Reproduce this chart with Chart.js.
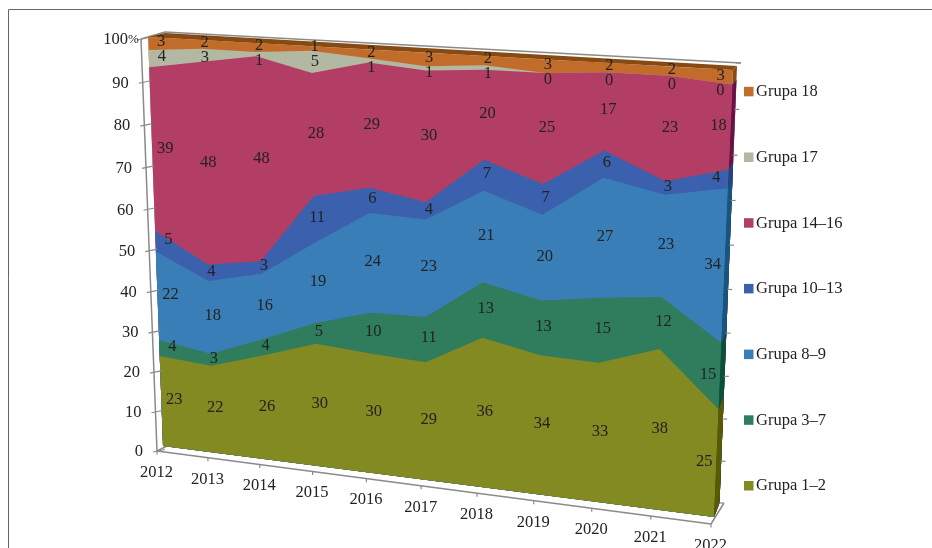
<!DOCTYPE html>
<html lang="pl">
<head>
    <meta charset="UTF-8">
    <title>Grupy 2012-2022</title>
    <script src="https://cdn.jsdelivr.net/npm/chart.js"></script>
    <style>
        body { margin: 0; padding: 0; background: white; overflow: hidden; }
        canvas { display: block; }
    </style>
</head>
<body>
<canvas id="chart" width="932" height="548"></canvas>

<script>
    const years = ['2012', '2013', '2014', '2015', '2016', '2017', '2018', '2019', '2020', '2021', '2022'];
    const yTicks = [0, 10, 20, 30, 40, 50, 60, 70, 80, 90, 100];

    const grupa1_2   = [23, 22, 26, 30, 30, 29, 36, 34, 33, 38, 25];
    const grupa3_7   = [4, 3, 4, 5, 10, 11, 13, 13, 15, 12, 15];
    const grupa8_9   = [22, 18, 16, 19, 24, 23, 21, 20, 27, 23, 34];
    const grupa10_13 = [5, 4, 3, 11, 6, 4, 7, 7, 6, 3, 4];
    const grupa14_16 = [39, 48, 48, 28, 29, 30, 20, 25, 17, 23, 18];
    const grupa17    = [4, 3, 1, 5, 1, 1, 1, 0, 0, 0, 0];
    const grupa18    = [3, 2, 2, 1, 2, 3, 2, 3, 2, 2, 3];

    const seriesNames = ['Grupa 1–2', 'Grupa 3–7', 'Grupa 8–9', 'Grupa 10–13', 'Grupa 14–16', 'Grupa 17', 'Grupa 18'];
    const seriesValues = [grupa1_2, grupa3_7, grupa8_9, grupa10_13, grupa14_16, grupa17, grupa18];
    const faceColors = ['#838a22', '#2f7d5d', '#3a7eb8', '#3b60ae', '#b23e66', '#b3b8a3', '#c16c2a'];
    const sideColors = ['#5b5a00', '#0d4f38', '#15557f', '#1f4583', '#6e1048', '#7d8070', '#884a10'];

    // corners of the tilted box: top-left, top-right, bottom-right, bottom-left
    const frontQuad = [[148, 37], [733, 70], [714, 517], [163, 446]];
    const backQuad  = [[165, 33], [737, 66], [719.5, 503], [170, 442]];
    const wallQuad  = [[141, 39], [741, 63], [724, 503], [157, 451]];

    const textColor = '#222';
    const lineColor = '#8a8a8a';
    const fontFamily = '"Liberation Serif", serif';
    const labelGap = 15;

    // unit square -> quad perspective coefficients
    function homography(q) {
        const [[x0, y0], [x1, y1], [x2, y2], [x3, y3]] = q;
        const dx1 = x1 - x2, dx2 = x3 - x2, sx = x0 - x1 + x2 - x3;
        const dy1 = y1 - y2, dy2 = y3 - y2, sy = y0 - y1 + y2 - y3;
        const den = dx1 * dy2 - dx2 * dy1;
        const g = (sx * dy2 - dx2 * sy) / den;
        const h = (dx1 * sy - sx * dy1) / den;
        return {
            a: x1 - x0 + g * x1, b: x3 - x0 + h * x3, c: x0,
            d: y1 - y0 + g * y1, e: y3 - y0 + h * y3, f: y0,
            g, h
        };
    }
    const frontH = homography(frontQuad);
    const backH = homography(backQuad);
    const wallH = homography(wallQuad);

    // maps a point of the flat chart area onto one of the box planes
    function project(H, area, px, py) {
        const u = (px - area.left) / (area.right - area.left);
        const v = (py - area.top) / (area.bottom - area.top);
        const w = H.g * u + H.h * v + 1;
        return [(H.a * u + H.b * v + H.c) / w, (H.d * u + H.e * v + H.f) / w];
    }

    function polygon(ctx, pts, color) {
        ctx.beginPath();
        pts.forEach((p, i) => i ? ctx.lineTo(p[0], p[1]) : ctx.moveTo(p[0], p[1]));
        ctx.closePath();
        ctx.fillStyle = color;
        ctx.fill();
    }

    function segment(ctx, a, b, width) {
        ctx.beginPath();
        ctx.moveTo(a[0], a[1]);
        ctx.lineTo(b[0], b[1]);
        ctx.lineWidth = width;
        ctx.strokeStyle = lineColor;
        ctx.stroke();
    }

    const boxPlugin = {
        id: 'box',
        afterDatasetsDraw(chart) {
            const ctx = chart.ctx, area = chart.chartArea;
            const xs = chart.scales.x, ys = chart.scales.y;
            const last = years.length - 1;
            const floorY = ys.getPixelForValue(0), topY = ys.getPixelForValue(100);
            const rightX = xs.getPixelForValue(last), leftX = xs.getPixelForValue(0);
            ctx.save();

            // outer frame, open on the right and at the bottom
            ctx.beginPath();
            ctx.moveTo(8.5, 548);
            ctx.lineTo(8.5, 9.5);
            ctx.lineTo(932, 9.5);
            ctx.lineWidth = 1;
            ctx.strokeStyle = '#666';
            ctx.stroke();

            // walls and floor edges
            const wallTL = wallQuad[0], wallBL = wallQuad[3], wallTR = wallQuad[1], wallBR = wallQuad[2];
            segment(ctx, wallBL, wallTL, 1.5);
            segment(ctx, wallTL, [165, 32], 1.5);
            segment(ctx, [165, 32], wallTR, 1.5);
            segment(ctx, wallBL, [166, 446.5], 1.5);
            const axisAt = i => {
                const p = project(frontH, area, xs.getPixelForValue(i), floorY);
                const t = i / last;
                return [p[0] - 6 + 3 * t, p[1] + 5 + 2 * t];
            };
            segment(ctx, axisAt(0), axisAt(last), 1.5);
            segment(ctx, axisAt(last), [wallBR[0], wallBR[1]], 1.5);

            // stacked bands, top one first so each lower band paints over it
            for (let s = seriesValues.length - 1; s >= 0; s--) {
                const pts = chart.getDatasetMeta(s).data.map(el => project(frontH, area, el.x, el.y));
                pts.push(project(frontH, area, rightX, floorY), project(frontH, area, leftX, floorY));
                polygon(ctx, pts, faceColors[s]);

                const el = chart.getDatasetMeta(s).data[last];
                polygon(ctx, [
                    project(frontH, area, el.x, el.y),
                    project(backH, area, el.x, el.y),
                    project(backH, area, rightX, floorY),
                    project(frontH, area, rightX, floorY)
                ], sideColors[s]);
            }

            // top face of the box
            polygon(ctx, [
                project(frontH, area, leftX, topY),
                project(backH, area, leftX, topY),
                project(backH, area, rightX, topY),
                project(frontH, area, rightX, topY)
            ], sideColors[6]);

            ctx.fillStyle = textColor;
            ctx.font = '16.5px ' + fontFamily;

            // value axis
            ctx.textBaseline = 'middle';
            yTicks.forEach(v => {
                const py = ys.getPixelForValue(v);
                const p = project(wallH, area, leftX, py);
                const r = project(wallH, area, rightX, py);
                segment(ctx, [p[0] - 4, p[1] + 1], [p[0] + 8, p[1] - 1.5], 1.2);
                segment(ctx, [r[0] - 5, r[1]], [r[0], r[1]], 1.2);
                ctx.fillStyle = textColor;
                ctx.textAlign = 'right';
                if (v === 100) {
                    ctx.fillText('100', p[0] - 13, p[1] + 0.5);
                    ctx.font = '13px ' + fontFamily;
                    ctx.textAlign = 'left';
                    ctx.fillText('%', p[0] - 13, p[1] + 0.5);
                    ctx.font = '16.5px ' + fontFamily;
                } else {
                    ctx.fillText(String(v), p[0] - 14, p[1] + 1);
                }
            });

            // category axis
            ctx.textAlign = 'center';
            years.forEach((year, i) => {
                const p = axisAt(i);
                segment(ctx, p, [p[0], p[1] + 3.5], 1.2);
                ctx.fillStyle = textColor;
                ctx.fillText(year, p[0] - 0.5, p[1] + 21.5);
            });

            // value labels in the middle of each band, walked from the top of
            // each year so thin bands do not print over their neighbour
            years.forEach((_, i) => {
                let prevY = -Infinity;
                for (let s = seriesValues.length - 1; s >= 0; s--) {
                    const el = chart.getDatasetMeta(s).data[i];
                    const below = s ? chart.getDatasetMeta(s - 1).data[i].y : floorY;
                    const p = project(frontH, area, el.x, (el.y + below) / 2);
                    const nudge = i === 0 ? 13 : i === last ? -12 : 3;
                    const y = Math.max(p[1] - 1.5, prevY + labelGap);
                    ctx.fillText(String(seriesValues[s][i]), p[0] + nudge, y);
                    prevY = y;
                }
            });

            // legend, top series first
            ctx.textAlign = 'left';
            seriesNames.forEach((name, s) => {
                const y = 485.5 - s * 65.7;
                ctx.fillStyle = faceColors[s];
                ctx.fillRect(744, y - 4.5, 9.5, 9.5);
                ctx.fillStyle = textColor;
                ctx.fillText(name, 756, y + 0.5);
            });

            ctx.restore();
        }
    };

    // 100% stacking: every year is scaled to its own total
    const yearTotals = years.map((_, i) => seriesValues.reduce((sum, values) => sum + values[i], 0));

    new Chart(document.getElementById('chart').getContext('2d'), {
        type: 'line',
        data: {
            labels: years,
            datasets: seriesNames.map((name, s) => ({
                label: name,
                data: seriesValues[s].map((v, i) => v / yearTotals[i] * 100),
                backgroundColor: faceColors[s],
                borderWidth: 0,
                pointRadius: 0,
                fill: false,
                showLine: false
            }))
        },
        options: {
            responsive: false,
            animation: false,
            layout: { padding: 0 },
            plugins: { legend: { display: false }, tooltip: { enabled: false } },
            scales: {
                x: { display: false, offset: false },
                y: { display: false, stacked: true, min: 0, max: 100 }
            }
        },
        plugins: [boxPlugin]
    });
</script>
</body>
</html>
